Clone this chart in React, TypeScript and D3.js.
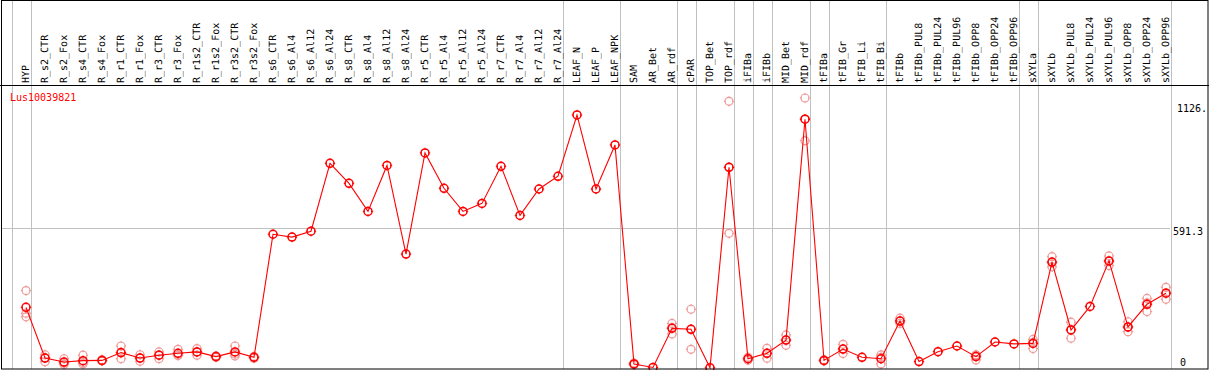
import React from "react";
import * as d3 from "d3";

const categories = [
  "HYP", "R_s2_CTR", "R_s2_Fox", "R_s4_CTR", "R_s4_Fox", "R_r1_CTR", "R_r1_Fox", "R_r3_CTR", "R_r3_Fox",
  "R_r1s2_CTR", "R_r1s2_Fox", "R_r3s2_CTR", "R_r3s2_Fox", "R_s6_CTR", "R_s6_Al4", "R_s6_Al12", "R_s6_Al24",
  "R_s8_CTR", "R_s8_Al4", "R_s8_Al12", "R_s8_Al24", "R_r5_CTR", "R_r5_Al4", "R_r5_Al12", "R_r5_Al24",
  "R_r7_CTR", "R_r7_Al4", "R_r7_Al12", "R_r7_Al24", "LEAF_N", "LEAF_P", "LEAF_NPK", "SAM", "AR_Bet", "AR_rdf",
  "cPAR", "TOP_Bet", "TOP_rdf", "iFIBa", "iFIBb", "MID_Bet", "MID_rdf", "tFIBa", "tFIB_Gr", "tFIB_Li", "tFIB_Bi",
  "tFIBb", "tFIBb_PUL8", "tFIBb_PUL24", "tFIBb_PUL96", "tFIBb_OPP8", "tFIBb_OPP24", "tFIBb_OPP96", "sXYLa",
  "sXYLb", "sXYLb_PUL8", "sXYLb_PUL24", "sXYLb_PUL96", "sXYLb_OPP8", "sXYLb_OPP24", "sXYLb_OPP96",
];

const means = [
  256, 41, 24, 30, 31, 64, 41, 53, 61, 67, 47, 67, 44,
  566, 554, 579, 867, 782, 663, 858, 482, 911, 761, 663, 697, 854, 646, 758, 812,
  1072, 758, 945, 16, 1, 167, 163, 0, 850, 38, 61, 117, 1054, 31, 79, 44, 38,
  198, 26, 68, 92, 47, 109, 101, 103, 448, 160, 260, 453, 173, 269, 316,
];

const replicates: number[][] = [
  [327, 231, 216], [55, 42, 25], [38, 20, 14], [53, 22, 16], [34, 30, 29], [92, 62, 38], [55, 41, 27],
  [67, 54, 38], [78, 53, 52], [81, 67, 53], [50, 47, 44], [92, 58, 50], [48, 44, 40],
  [], [], [], [], [], [], [], [], [], [], [], [], [], [], [], [],
  [], [], [], [20, 16, 12], [], [188, 170, 143], [248, 163, 78], [], [1130, 850, 570], [44, 38, 32],
  [82, 61, 40], [139, 117, 95], [1144, 1055, 963], [34, 31, 28], [99, 79, 60], [], [54, 44, 16],
  [210, 198, 188], [], [], [], [55, 52, 33], [], [], [120, 108, 81], [471, 445, 428], [193, 162, 125],
  [], [474, 452, 433], [195, 171, 153], [294, 275, 238], [341, 317, 290],
];

// group separators: index after which a vertical divider is drawn (-1 = before first)
const separatorsAfter = [-1, 0, 28, 31, 34, 35, 37, 38, 39, 41, 42, 45, 52, 53, 60];

const tickValues = [1126, 591.3, 0];
const tickLabels = ["1126.", "591.3", "0"];
const geneName = "Lus10039821";

const W = 1209;
const H = 370;
const FONT = "'DejaVu Sans Mono', monospace";

function Marker({ cx, cy, color, sw }: { cx: number; cy: number; color: string; sw: number }) {
  const r = 4;
  return (
    <g>
      <circle cx={cx} cy={cy} r={r} fill="none" stroke={color} strokeWidth={sw} />
      <line x1={cx} x2={cx} y1={cy - r - 1.2} y2={cy - r + 1} stroke={color} strokeWidth={1} />
      <line x1={cx} x2={cx} y1={cy + r - 1} y2={cy + r + 1.2} stroke={color} strokeWidth={1} />
      <line y1={cy} y2={cy} x1={cx - r - 1.2} x2={cx - r + 1} stroke={color} strokeWidth={1} />
      <line y1={cy} y2={cy} x1={cx + r - 1} x2={cx + r + 1.2} stroke={color} strokeWidth={1} />
    </g>
  );
}

export default function App() {
  const x = d3.scalePoint<string>().domain(categories).range([26, 1166]);
  const step = x.step();
  const y = d3.scaleLinear().domain([0, 591.3]).range([367.7, 228.3]);

  const line = d3
    .line<number>()
    .x((_, i) => x(categories[i]) as number)
    .y((d) => y(d));

  const headerY = 85;
  const plotRight = 1170;
  const tickLabelX = [1177, 1173, 1180];
  const tickLabelY = [112, 235, 366];

  return (
    <svg
      width={W}
      height={H}
      style={{ position: "fixed", left: 0, top: 0, background: "#fff" }}
      fontFamily={FONT}
    >
      <rect x={0} y={0} width={W} height={H} fill="#fff" />
      {/* vertical group separators */}
      {separatorsAfter.map((k) => {
        const xx = Math.round(26 + step * k + 4.5) + 0.5;
        return <line key={k} x1={xx} x2={xx} y1={0} y2={369} stroke="#c0c0c0" strokeWidth={1} />;
      })}
      {/* horizontal grid at middle tick */}
      <line x1={1} x2={plotRight} y1={Math.round(y(591.3)) + 0.5} y2={Math.round(y(591.3)) + 0.5} stroke="#c0c0c0" strokeWidth={1} />

      {/* category labels */}
      {categories.map((c) => {
        const cx = (x(c) as number) + 3;
        return (
          <text
            key={c}
            transform={`translate(${cx},83) rotate(-90)`}
            fontSize={10}
            fill="#000"
            textAnchor="start"
            style={{ textRendering: "geometricPrecision" }}
          >
            {c}
          </text>
        );
      })}

      {/* gene name */}
      <text x={10} y={101} fontSize={10} fill="#ff0000">{geneName}</text>

      {/* replicate points */}
      {replicates.map((reps, i) =>
        reps.map((v, j) => (
          <Marker key={`r${i}-${j}`} cx={x(categories[i]) as number} cy={y(v)} color="#f09a9a" sw={1.2} />
        ))
      )}

      {/* mean line */}
      <path d={line(means) || ""} fill="none" stroke="#ff0000" strokeWidth={1.1} />

      {/* mean points */}
      {means.map((v, i) => (
        <Marker key={`m${i}`} cx={x(categories[i]) as number} cy={y(v)} color="#ff0000" sw={1.5} />
      ))}

      {/* tick labels */}
      <clipPath id="rightclip">
        <rect x={0} y={0} width={1207} height={H} />
      </clipPath>
      <g clipPath="url(#rightclip)">
        {tickValues.map((v, i) => (
          <text key={v} x={tickLabelX[i]} y={tickLabelY[i]} fontSize={10} fill="#000">
            {tickLabels[i]}
          </text>
        ))}
      </g>

      {/* frame */}
      <line x1={0} x2={W} y1={headerY + 0.5} y2={headerY + 0.5} stroke="#000" strokeWidth={1} />
      <rect x={1.5} y={0.5} width={1206.5} height={368.5} fill="none" stroke="#000" strokeWidth={1} />
    </svg>
  );
}
